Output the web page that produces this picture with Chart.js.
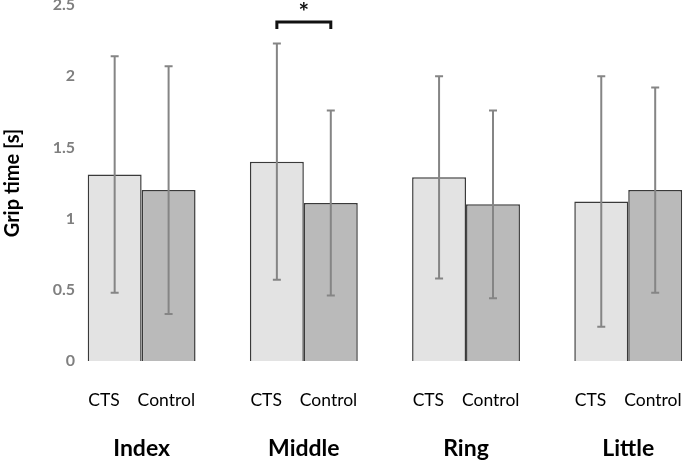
<!DOCTYPE html>
<html>
<head>
<meta charset="utf-8">
<script src="https://cdn.jsdelivr.net/npm/chart.js@4"></script>
<style>
  html, body { margin: 0; padding: 0; background: #fff; overflow: hidden; }
  #wrap { width: 685px; height: 460px; }
</style>
</head>
<body>
<div id="wrap"><canvas id="chart_grip"></canvas></div>
<script>
// grip time per finger, mean and SD
var fingers = ['Index', 'Middle', 'Ring', 'Little'];
var subLabel = 'CTS    Control';
var ctsMean = [1.31, 1.40, 1.29, 1.12];
var ctsSD = [0.83, 0.83, 0.71, 0.88];
var controlMean = [1.20, 1.11, 1.10, 1.20];
var controlSD = [0.87, 0.65, 0.66, 0.72];
var yTicks = [0, 0.5, 1, 1.5, 2, 2.5];
// significance bracket: finger index, bracket height, mark
var sigFinger = [1];
var sigLevel = [2.38];
var sigMark = ['*'];

var _cts = [];
var _control = [];
for (let i = 0; i < fingers.length; i++) {
  _cts.push({ x: i, y: ctsMean[i], sd: ctsSD[i] });
  _control.push({ x: i, y: controlMean[i], sd: controlSD[i] });
}

var errorBars = {
  id: 'errorBars',
  afterDatasetsDraw: function (chart) {
    var ctx = chart.ctx;
    var y = chart.scales.y;
    ctx.save();
    ctx.strokeStyle = '#858585';
    ctx.lineWidth = 2;
    chart.data.datasets.forEach(function (ds, di) {
      chart.getDatasetMeta(di).data.forEach(function (bar, i) {
        var d = ds.data[i];
        var top = y.getPixelForValue(d.y + d.sd);
        var bot = y.getPixelForValue(d.y - d.sd);
        ctx.beginPath();
        ctx.moveTo(bar.x, top);
        ctx.lineTo(bar.x, bot);
        ctx.moveTo(bar.x - 4, top);
        ctx.lineTo(bar.x + 4, top);
        ctx.moveTo(bar.x - 4, bot);
        ctx.lineTo(bar.x + 4, bot);
        ctx.stroke();
      });
    });
    // significance brackets
    ctx.strokeStyle = '#111';
    ctx.fillStyle = '#111';
    ctx.lineWidth = 3;
    ctx.font = 'bold 25px Lato';
    ctx.textAlign = 'center';
    ctx.textBaseline = 'middle';
    for (let k = 0; k < sigFinger.length; k++) {
      var a = chart.getDatasetMeta(0).data[sigFinger[k]].x;
      var b = chart.getDatasetMeta(1).data[sigFinger[k]].x;
      var py = y.getPixelForValue(sigLevel[k]);
      ctx.beginPath();
      ctx.moveTo(a, py + 7);
      ctx.lineTo(a, py);
      ctx.lineTo(b, py);
      ctx.lineTo(b, py + 7);
      ctx.stroke();
      ctx.fillText(sigMark[k], (a + b) / 2, py - 9);
    }
    ctx.restore();
  }
};

function groupTicks(axis) {
  axis.ticks = fingers.map(function (f, i) { return { value: i }; });
}

new Chart(document.getElementById('chart_grip'), {
  type: 'bar',
  data: {
    datasets: [
      {
        label: 'CTS',
        data: _cts,
        backgroundColor: '#e3e3e3',
        borderColor: '#3a3a3a',
        borderWidth: 1.5,
        categoryPercentage: 0.665,
        barPercentage: 1
      },
      {
        label: 'Control',
        data: _control,
        backgroundColor: '#bababa',
        borderColor: '#3a3a3a',
        borderWidth: 1.5,
        categoryPercentage: 0.665,
        barPercentage: 1
      }
    ]
  },
  options: {
    animation: false,
    responsive: true,
    maintainAspectRatio: false,
    layout: { padding: 0 },
    plugins: {
      legend: { display: false },
      tooltip: { enabled: false }
    },
    scales: {
      x: {
        type: 'linear',
        position: 'bottom',
        offset: false,
        weight: 0,
        min: -0.38,
        max: 3.35,
        grid: { display: false, drawTicks: false, offset: false },
        border: { display: false },
        afterBuildTicks: groupTicks,
        afterFit: function (s) { s.height = 48; s.paddingLeft = 0; s.paddingRight = 0; },
        ticks: {
          autoSkip: false,
          maxRotation: 0,
          padding: 29,
          color: '#000',
          font: { family: 'Lato', size: 17.5 },
          callback: function () { return subLabel; }
        }
      },
      x2: {
        type: 'linear',
        position: 'bottom',
        offset: false,
        weight: 1,
        min: -0.38,
        max: 3.35,
        grid: { display: false, drawTicks: false, offset: false },
        border: { display: false },
        afterBuildTicks: groupTicks,
        afterFit: function (s) { s.height = 51; s.paddingLeft = 0; s.paddingRight = 0; },
        ticks: {
          autoSkip: false,
          maxRotation: 0,
          padding: 26,
          color: '#000',
          font: { family: 'Lato', size: 23, weight: 'bold' },
          callback: function (v, i) { return fingers[i]; }
        }
      },
      y: {
        min: 0,
        max: 2.5,
        grid: { display: false, drawTicks: false },
        border: { display: false },
        afterBuildTicks: function (axis) {
          axis.ticks = yTicks.map(function (v) { return { value: v }; });
        },
        afterFit: function (s) { s.width = 80; s.paddingTop = 5; },
        ticks: {
          padding: 5,
          color: '#7f7f7f',
          font: { family: 'Lato', size: 16, weight: 'bold' },
          callback: function (v) { return String(v); }
        },
        title: {
          display: true,
          text: 'Grip time [s]',
          color: '#000',
          padding: { top: 1, bottom: 0 },
          font: { family: 'Lato', size: 20, weight: 'bold' }
        }
      }
    }
  },
  plugins: [errorBars]
});
</script>
</body>
</html>
